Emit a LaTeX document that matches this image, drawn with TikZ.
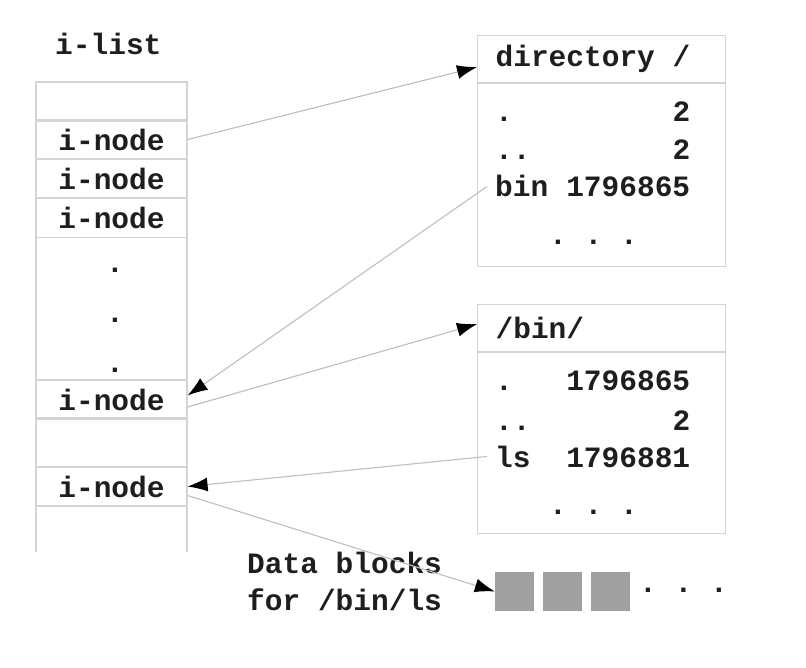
\documentclass[tikz,border=0pt]{standalone}
\usepackage{fontspec}
\setmonofont{Liberation Mono}
\usetikzlibrary{arrows.meta}

\definecolor{rulegray}{RGB}{212,212,212}
\definecolor{linkgray}{RGB}{190,190,190}
\definecolor{blockgray}{RGB}{160,160,160}
\definecolor{inkgray}{RGB}{30,30,30}
\newcommand{\dirrow}[2]{\hbox to 195pt{#1\hfill#2}}
\newcommand{\dirhead}[1]{\hbox to 212pt{#1\hfill}}

\begin{document}
\begin{tikzpicture}[
  x = 1pt, y = -1pt,
  every node/.style = {
    font = \ttfamily\bfseries\fontsize{29.5}{34}\selectfont\frenchspacing,
    text = inkgray
  },
  txt/.style = {
    anchor = base west,
    inner xsep = 8pt,
    inner ysep = 0pt
  },
  cell/.style = {
    draw = rulegray,
    line width = 1.2pt,
    minimum width = 151pt,
    minimum height = 39pt,
    inner sep = 0pt
  },
  hdr/.style = {
    draw = rulegray,
    line width = 1.2pt,
    anchor = north west,
    minimum height = 47pt,
    inner xsep = 18pt
  },
  dirbody/.style = {
    draw = rulegray,
    line width = 1.2pt,
    anchor = north,
    minimum width = 248pt
  },
  blk/.style = {
    fill = blockgray,
    minimum size = 39pt,
    inner sep = 0pt
  },
  link/.style = {
    draw = linkgray,
    line width = 1.1pt,
    -{Latex[color = black, length = 20pt, width = 14pt]}
  }
]
  \useasboundingbox (0, 0) rectangle (806, 668);

  % i-list column
  \node[txt] (ilist) at (47, 55) {i-list};
  \node[cell] (c0) at (111.5, 101.5) {};
  \node[cell] (in1) at (111.5, 139.5) {i-node};
  \node[cell] (in2) at (111.5, 178.5) {i-node};
  \node[cell] (in3) at (111.5, 218) {i-node};
  \foreach \y in {273, 323, 373}
    \node[txt] (dot\y) at (98, \y) {.};
  \node[cell] (in4) at (111.5, 399.5) {i-node};
  \node[cell, minimum height = 49pt] (c5) at (111.5, 442.5) {};
  \node[cell] (in5) at (111.5, 486.5) {i-node};
  \draw[draw = rulegray, line width = 1.2pt] (36, 83) -- (36, 552) (187, 83) -- (187, 552);

  % directory /
  \node[hdr] (dirhd) at (477, 35) {\dirhead{directory /}};
  \node[dirbody, minimum height = 183pt] (dirbd) at (dirhd.south) {};
  \node[txt] (dirdot) at (487, 122) {\dirrow{.}{2}};
  \node[txt] (dirup) at (487, 160) {\dirrow{..}{2}};
  \node[txt] (dirbin) at (487, 197) {\dirrow{bin}{1796865}};
  \node[txt] (dirmore) at (541, 245) {. . .};

  % /bin/
  \node[hdr] (binhd) at (477, 304) {\dirhead{/bin/}};
  \node[dirbody, minimum height = 181pt] (binbd) at (binhd.south) {};
  \node[txt] (bindot) at (487, 390) {\dirrow{.}{1796865}};
  \node[txt] (binup) at (487, 430) {\dirrow{..}{2}};
  \node[txt] (binls) at (487, 467) {\dirrow{ls}{1796881}};
  \node[txt] (binmore) at (541, 514) {. . .};

  % data blocks
  \node[txt] (datalbl) at (239, 573) {Data blocks};
  \node[txt] (datafor) at (239, 610) {for /bin/ls};
  \foreach \i/\x in {1/514.5, 2/562.5, 3/610.5}
    \node[blk] (blk\i) at (\x, 591.5) {};
  \node[txt] (blkmore) at (631, 592) {. . .};

  \draw[link] (in1.east) -- ([yshift = -8pt]dirhd.west);
  \draw[link] (dirbin.west) -- ([yshift = 4pt]in4.east);
  \draw[link] ([yshift = -7.5pt]in4.east) -- ([yshift = 4pt]binhd.west);
  \draw[link] (binls.west) -- (in5.east);
  \draw[link] ([yshift = -9pt]in5.east) -- (blk1.west);
\end{tikzpicture}
\end{document}
